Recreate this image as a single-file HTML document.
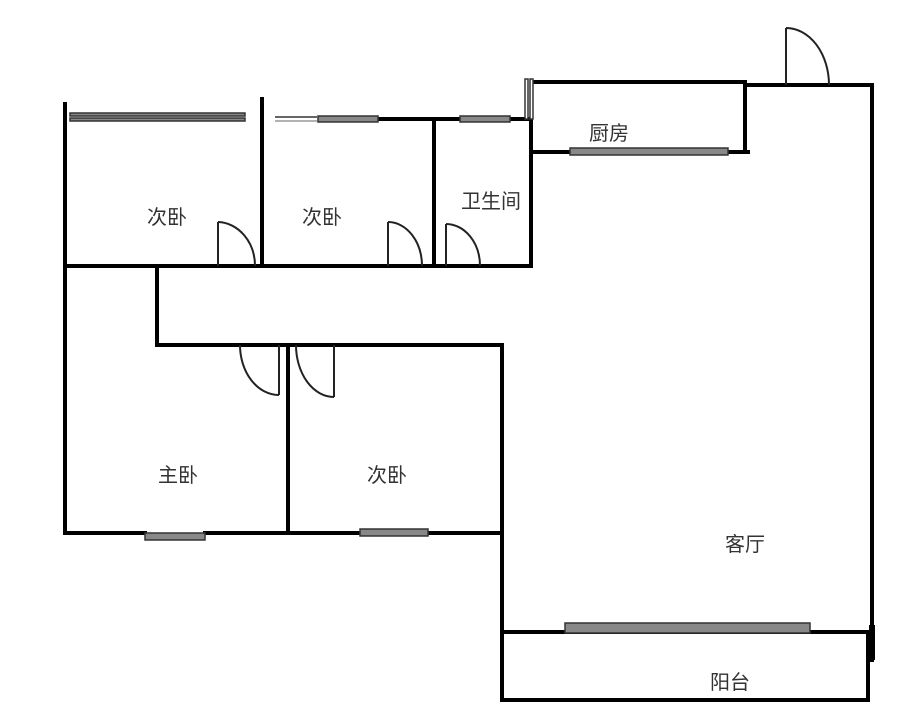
<!DOCTYPE html>
<html><head><meta charset="utf-8"><style>
html,body{margin:0;padding:0;background:#fff;width:906px;height:723px;overflow:hidden}
svg{display:block}
text{font-family:"Liberation Sans","Noto Sans CJK SC",sans-serif;font-size:20px;fill:#333}
</style></head><body>
<svg width="906" height="723" viewBox="0 0 906 723">
<g stroke="#000" stroke-width="4" fill="none" stroke-linecap="square">
<!-- left outer -->
<line x1="65" y1="104" x2="65" y2="533"/>
<line x1="262" y1="99" x2="262" y2="266"/>
<line x1="65" y1="266" x2="531" y2="266"/>
<!-- second bedroom top wall -->
<line x1="378" y1="119" x2="434" y2="119"/>
<line x1="434" y1="119" x2="434" y2="266"/>
<line x1="434" y1="119" x2="460" y2="119"/>
<line x1="510" y1="119" x2="531" y2="119"/>
<line x1="531" y1="119" x2="531" y2="266"/>
<!-- kitchen -->
<line x1="533" y1="82" x2="745" y2="82"/>
<line x1="745" y1="82" x2="745" y2="152"/>
<line x1="533" y1="152" x2="570" y2="152"/>
<line x1="728" y1="152" x2="748" y2="152"/>
<line x1="531" y1="119" x2="531" y2="152"/>
<!-- right outer -->
<line x1="745" y1="85" x2="872" y2="85"/>
<line x1="872" y1="85" x2="872" y2="660"/>
<!-- corridor -->
<line x1="157" y1="266" x2="157" y2="345"/>
<line x1="157" y1="345" x2="502" y2="345"/>
<line x1="502" y1="345" x2="502" y2="632"/>
<line x1="288" y1="345" x2="288" y2="533"/>
<!-- bottom bedrooms -->
<line x1="65" y1="533" x2="145" y2="533"/>
<line x1="205" y1="533" x2="360" y2="533"/>
<line x1="428" y1="533" x2="502" y2="533"/>
<!-- balcony -->
<line x1="502" y1="632" x2="565" y2="632"/>
<line x1="810" y1="632" x2="870" y2="632"/>
<rect x="502" y="632" width="366" height="68"/>
</g>
<line x1="872" y1="625" x2="872" y2="660" stroke="#000" stroke-width="6"/>
<!-- windows -->
<g fill="#888" stroke="#333" stroke-width="1.5">
<rect x="70" y="113" width="175" height="3"/>
<rect x="70" y="118" width="175" height="3"/>
<rect x="318" y="116" width="60" height="6"/>
<rect x="460" y="116" width="50" height="6"/>
<rect x="570" y="148" width="158" height="7"/>
<rect x="145" y="533" width="60" height="7"/>
<rect x="360" y="529" width="68" height="7"/>
<rect x="565" y="623" width="245" height="10"/>
<rect x="525" y="79" width="3" height="40" fill="#fff"/>
<rect x="530" y="79" width="3" height="40" fill="#fff"/>
</g>
<line x1="275" y1="117" x2="318" y2="117" stroke="#666" stroke-width="2"/>
<line x1="275" y1="121" x2="318" y2="121" stroke="#666" stroke-width="1"/>
<!-- doors -->
<g stroke="#222" stroke-width="2" fill="none">
<line x1="218" y1="266" x2="218" y2="222"/><path d="M218 222 A38 44 0 0 1 255 266"/>
<line x1="388" y1="266" x2="388" y2="222"/><path d="M388 222 A34 44 0 0 1 422 266"/>
<line x1="446" y1="266" x2="446" y2="224"/><path d="M446 224 A34 42 0 0 1 480 266"/>
<line x1="279" y1="345" x2="279" y2="395"/><path d="M240 345 A39 50 0 0 0 279 395"/>
<line x1="334" y1="345" x2="334" y2="397"/><path d="M296 345 A38 52 0 0 0 334 397"/>
<line x1="786" y1="85" x2="786" y2="28"/><path d="M786 28 A43 57 0 0 1 829 85"/>
</g>
<text x="147" y="224">次卧</text>
<text x="302" y="224">次卧</text>
<text x="461" y="208">卫生间</text>
<text x="589" y="140">厨房</text>
<text x="158" y="482">主卧</text>
<text x="367" y="482">次卧</text>
<text x="725" y="551">客厅</text>
<text x="710" y="689">阳台</text>
</svg>
</body></html>
